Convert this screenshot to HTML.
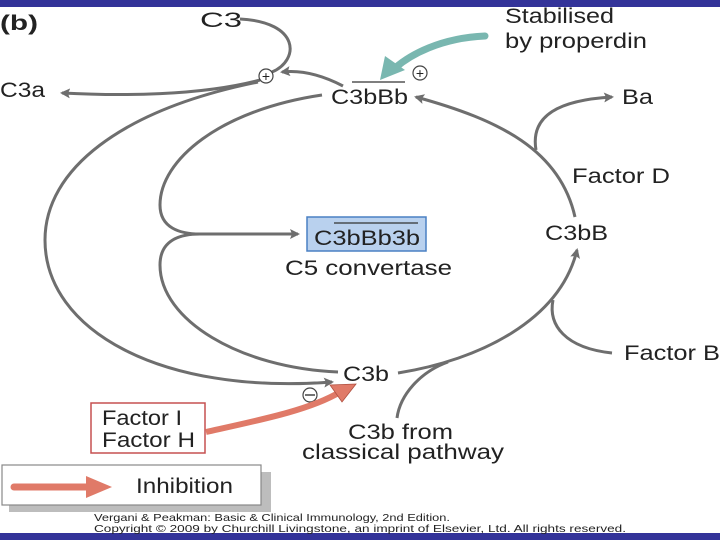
<!DOCTYPE html>
<html><head><meta charset="utf-8"><style>
html,body{margin:0;padding:0;background:#fff;}
svg{display:block;}
text{font-family:"Liberation Sans",sans-serif;fill:#222;}
</style></head><body>
<svg width="720" height="540" viewBox="0 0 720 540" xmlns="http://www.w3.org/2000/svg">
<defs>
<marker id="a" markerWidth="10" markerHeight="10" refX="8" refY="5" orient="auto" markerUnits="userSpaceOnUse" viewBox="0 0 10 10">
<path d="M0,0 L10,5 L0,10 L2,5 Z" fill="#6e6e6e"/></marker>
</defs>
<rect x="0" y="0" width="720" height="7" fill="#333399"/>
<rect x="0" y="533" width="720" height="7" fill="#333399"/>
<text x="0" y="30" font-size="21" font-weight="bold" textLength="38" lengthAdjust="spacingAndGlyphs">(b)</text>

<g fill="none" stroke="#6e6e6e" stroke-width="3">
<path d="M240,19 C300,22 300,60 272,72"/>
<path d="M260,80 C200,96 120,96 62,93" marker-end="url(#a)"/>
<path d="M343,86 C320,74 300,70 282,72" marker-end="url(#a)"/>
<path d="M258,82 C120,110 45,170 45,240 C45,330 160,395 332,382" marker-end="url(#a)"/>
<path d="M322,95 C220,110 160,160 160,205 C160,228 180,234 200,234 L298,234" marker-end="url(#a)"/>
<path d="M200,234 C180,234 160,240 160,265 C160,320 240,368 338,372"/>
<path d="M398,373 C480,360 560,320 577,250" marker-end="url(#a)"/>
<path d="M612,353 C565,348 548,325 553,300"/>
<path d="M397,418 C400,395 420,372 448,362"/>
<path d="M575,217 C560,150 500,120 416,97" marker-end="url(#a)"/>
<path d="M536,150 C530,115 560,100 612,97" marker-end="url(#a)"/>
</g>

<path d="M485,36 C440,38 410,55 395,68" fill="none" stroke="#79b7b0" stroke-width="7" stroke-linecap="round"/>
<path d="M380,80 L385,56 L405,70 Z" fill="#79b7b0"/>

<circle cx="266" cy="76" r="7" fill="#fff" stroke="#444" stroke-width="1.2"/>
<text x="266" y="81" font-size="14" text-anchor="middle">+</text>
<circle cx="420" cy="73" r="7" fill="#fff" stroke="#444" stroke-width="1.2"/>
<text x="420" y="78" font-size="14" text-anchor="middle">+</text>
<circle cx="310" cy="395" r="7" fill="#fff" stroke="#444" stroke-width="1.2"/>
<line x1="305" y1="395" x2="315" y2="395" stroke="#444" stroke-width="1.5"/>

<g font-size="21" lengthAdjust="spacingAndGlyphs">
<text x="200" y="27" textLength="42" lengthAdjust="spacingAndGlyphs">C3</text>
<text x="0" y="97" textLength="45" lengthAdjust="spacingAndGlyphs">C3a</text>
<text x="331" y="104" textLength="77" lengthAdjust="spacingAndGlyphs">C3bBb</text>
<text x="505" y="23" textLength="109" lengthAdjust="spacingAndGlyphs">Stabilised</text>
<text x="505" y="48" textLength="142" lengthAdjust="spacingAndGlyphs">by properdin</text>
<text x="622" y="104" textLength="31" lengthAdjust="spacingAndGlyphs">Ba</text>
<text x="572" y="183" textLength="98" lengthAdjust="spacingAndGlyphs">Factor D</text>
<text x="545" y="240" textLength="63" lengthAdjust="spacingAndGlyphs">C3bB</text>
<text x="624" y="360" textLength="96" lengthAdjust="spacingAndGlyphs">Factor B</text>
</g>
<line x1="352" y1="82" x2="405" y2="82" stroke="#333" stroke-width="1.2"/>

<rect x="307" y="217" width="119" height="34" fill="#b9d1ee" stroke="#4a80c4" stroke-width="1.5"/>
<text x="314" y="245" font-size="21" textLength="106" lengthAdjust="spacingAndGlyphs">C3bBb3b</text>
<line x1="334" y1="223" x2="418" y2="223" stroke="#333" stroke-width="1.2"/>
<text x="285" y="275" font-size="21" textLength="167" lengthAdjust="spacingAndGlyphs">C5 convertase</text>
<text x="343" y="381" font-size="21" textLength="46" lengthAdjust="spacingAndGlyphs">C3b</text>
<text x="348" y="439" font-size="21" textLength="105" lengthAdjust="spacingAndGlyphs">C3b from</text>
<text x="302" y="459" font-size="21" textLength="202" lengthAdjust="spacingAndGlyphs">classical pathway</text>

<rect x="91" y="403" width="114" height="50" fill="#fff" stroke="#c55050" stroke-width="1.5"/>
<text x="102" y="425" font-size="21" textLength="80" lengthAdjust="spacingAndGlyphs">Factor I</text>
<text x="102" y="447" font-size="21" textLength="93" lengthAdjust="spacingAndGlyphs">Factor H</text>
<path d="M206,432 C260,420 310,410 340,392" fill="none" stroke="#e07a68" stroke-width="6"/>
<path d="M356,384 L330,385 L342,402 Z" fill="#e07a68" stroke="#b05040" stroke-width="0.8"/>

<rect x="9" y="472" width="262" height="40" fill="#bdbdbd"/>
<rect x="2" y="465" width="259" height="40" fill="#fff" stroke="#888" stroke-width="1.2"/>
<line x1="14" y1="487" x2="92" y2="487" stroke="#e07a68" stroke-width="7" stroke-linecap="round"/>
<path d="M86,476 L112,487 L86,498 Z" fill="#e07a68"/>
<text x="136" y="493" font-size="21" textLength="97" lengthAdjust="spacingAndGlyphs">Inhibition</text>

<text x="94" y="521" font-size="10.5" textLength="356" lengthAdjust="spacingAndGlyphs">Vergani &amp; Peakman: Basic &amp; Clinical Immunology, 2nd Edition.</text>
<text x="94" y="532" font-size="10.5" textLength="532" lengthAdjust="spacingAndGlyphs">Copyright © 2009 by Churchill Livingstone, an imprint of Elsevier, Ltd. All rights reserved.</text>
</svg>
</body></html>
